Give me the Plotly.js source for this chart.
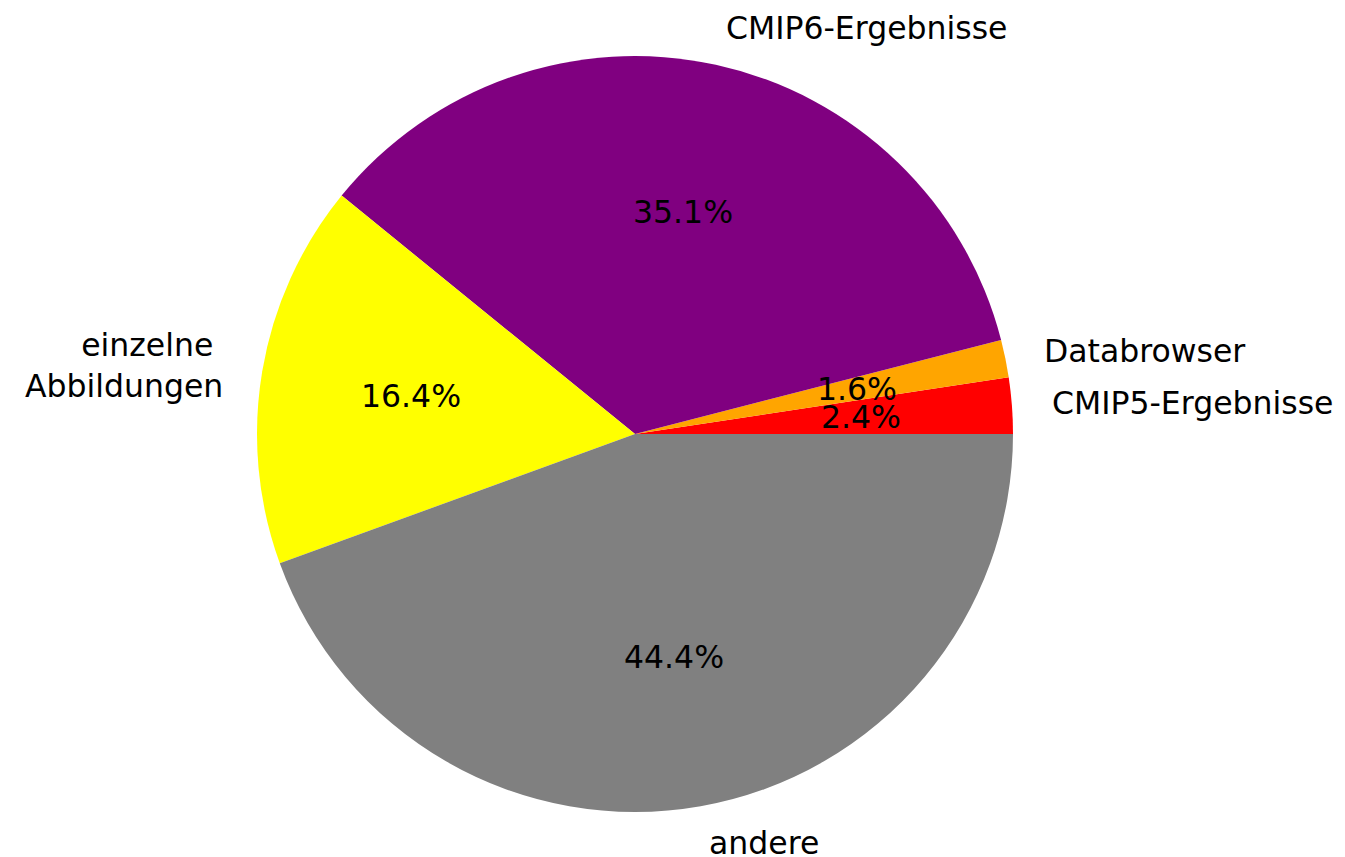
<!DOCTYPE html>
<html>
<head>
<meta charset="utf-8">
<script src="https://cdn.plot.ly/plotly-3.0.1.min.js"></script>
<style>html,body{margin:0;padding:0;background:#fff;}#chart{width:1345px;height:857px;}</style>
</head>
<body>
<div id="chart"></div>
<script>
const labels = ["CMIP5-Ergebnisse", "Databrowser", "CMIP6-Ergebnisse", "einzelne\u00a0<br>Abbildungen", "andere"];
const values = [2.4, 1.6, 35.1, 16.4, 44.4];
const colors = ["#ff0000", "#ffa500", "#800080", "#ffff00", "#808080"];

const FONT = "DejaVu Sans, sans-serif";
const FS = 31.5;

const total = values.reduce((a, b) => a + b, 0);
const annotations = [];
let cum = 0;
for (let i = 0; i < values.length; i++) {
  const frac = values[i] / total;
  const mid = (cum + frac / 2) * 2 * Math.PI;
  cum += frac;
  const c = Math.cos(mid), s = Math.sin(mid);
  annotations.push({
    xref: "paper", yref: "paper",
    x: 0.5 + 0.55 * c, y: 0.5 + 0.55 * s,
    text: labels[i], showarrow: false,
    xanchor: c >= 0 ? "left" : "right", yanchor: "middle",
    align: c >= 0 ? "left" : "right",
    font: {family: FONT, size: FS, color: "#000"}
  });
  annotations.push({
    xref: "paper", yref: "paper",
    x: 0.5 + 0.3 * c, y: 0.5 + 0.3 * s,
    text: (100 * frac).toFixed(1) + "%", showarrow: false,
    xanchor: "center", yanchor: "middle",
    font: {family: FONT, size: FS, color: "#000"}
  });
}

// Plotly places the first counterclockwise slice ending at the rotation angle;
// shift so the first slice starts at 3 o'clock like the reference.
const rot = 90 - 360 * values[0] / total;

const data = [{
  type: "pie",
  labels: labels,
  values: values,
  sort: false,
  direction: "counterclockwise",
  rotation: rot,
  textinfo: "none",
  hoverinfo: "skip",
  marker: {colors: colors, line: {width: 0}},
  showlegend: false
}];

const layout = {
  width: 1345, height: 857,
  margin: {l: 257, r: 332, t: 56, b: 45},
  paper_bgcolor: "#fff",
  plot_bgcolor: "#fff",
  showlegend: false,
  annotations: annotations,
  font: {family: FONT}
};

Plotly.newPlot("chart", data, layout, {displayModeBar: false, staticPlot: true});
</script>
</body>
</html>
